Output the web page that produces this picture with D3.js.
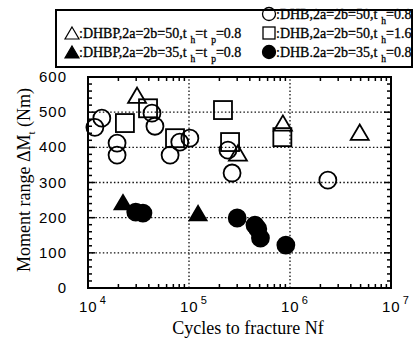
<!DOCTYPE html>
<html>
<head>
<meta charset="utf-8">
<script src="https://cdn.jsdelivr.net/npm/d3@7"></script>
<style>
  body { margin: 0; background: #fff; }
  svg { display: block; }
</style>
</head>
<body>
<div id="chart"></div>
<script>
// data: cycles to fracture, moment range (Nm)
let dhb50_08_n = [1.17e4, 1.37e4, 1.94e4, 1.94e4, 4.3e4, 4.6e4, 6.5e4, 8.1e4, 1.02e5, 2.43e5, 2.67e5, 2.37e6];
let dhb50_08_m = [457, 483, 412, 378, 497, 460, 378, 415, 426, 392, 327, 307];

let dhb50_16_n = [2.32e4, 3.93e4, 7.27e4, 2.17e5, 2.55e5, 8.4e5];
let dhb50_16_m = [469, 511, 426, 506, 415, 429];

let dhbp50_n = [3.06e4, 3.05e5, 8.5e5, 4.9e6];
let dhbp50_m = [548, 384, 469, 443];

let dhbp35_n = [2.22e4, 1.23e5];
let dhbp35_m = [244, 213];

let dhb35_n = [2.97e4, 3.5e4, 3.0e5, 4.5e5, 4.8e5, 5.1e5, 9.1e5];
let dhb35_m = [216, 213, 199, 179, 168, 142, 122];

let yTicks = [0, 100, 200, 300, 400, 500, 600];
let xDecades = [4, 5, 6, 7];

const W = 417, H = 343;
const m = {left: 88, right: 26, top: 77, bottom: 55};

let svg = d3.select("#chart").append("svg")
    .attr("width", W).attr("height", H);

let x = d3.scaleLog().domain([1e4, 1e7]).range([m.left, W - m.right]);
let y = d3.scaleLinear().domain([0, 600]).range([H - m.bottom, m.top]);

// dotted grid
let grid = svg.append("g")
    .attr("stroke", "#111").attr("stroke-width", 1.3)
    .attr("stroke-dasharray", "1.5,2.2");
grid.selectAll("line.gy")
    .data([100, 200, 300, 400, 500])
    .enter().append("line")
    .attr("x1", x(1e4)).attr("x2", x(1e7))
    .attr("y1", d => y(d)).attr("y2", d => y(d));
grid.selectAll("line.gx")
    .data([1e5, 1e6])
    .enter().append("line")
    .attr("x1", d => x(d)).attr("x2", d => x(d))
    .attr("y1", y(0)).attr("y2", y(600));

// ticks on all four sides, pointing in
let ticks = svg.append("g").attr("stroke", "#000").attr("stroke-width", 1.5);
let yMinor = d3.range(0, 601, 20);
ticks.selectAll("line.yl").data(yMinor).enter().append("line")
    .attr("x1", x(1e4)).attr("x2", d => x(1e4) + (d % 100 === 0 ? 7 : 4))
    .attr("y1", d => y(d)).attr("y2", d => y(d));
ticks.selectAll("line.yr").data(yMinor).enter().append("line")
    .attr("x1", x(1e7)).attr("x2", d => x(1e7) - (d % 100 === 0 ? 7 : 4))
    .attr("y1", d => y(d)).attr("y2", d => y(d));

let xMinor = [];
for (let e = 4; e < 7; e++) {
    for (let k = 2; k <= 9; k++) xMinor.push(k * Math.pow(10, e));
}
ticks.selectAll("line.xb").data(xMinor).enter().append("line")
    .attr("x1", d => x(d)).attr("x2", d => x(d))
    .attr("y1", y(0)).attr("y2", y(0) - 4);
ticks.selectAll("line.xt").data(xMinor).enter().append("line")
    .attr("x1", d => x(d)).attr("x2", d => x(d))
    .attr("y1", y(600)).attr("y2", y(600) + 4);

// frame
svg.append("rect")
    .attr("x", x(1e4)).attr("y", y(600))
    .attr("width", x(1e7) - x(1e4)).attr("height", y(0) - y(600))
    .attr("fill", "none").attr("stroke", "#000").attr("stroke-width", 2);

// tick labels
svg.selectAll("text.yt").data(yTicks).enter().append("text")
    .attr("x", 67).attr("y", d => y(d) + 5)
    .attr("text-anchor", "end")
    .attr("font-family", "Liberation Sans, Arial, sans-serif")
    .attr("font-size", 15).attr("letter-spacing", 1)
    .text(d => d);

let xl = svg.selectAll("text.xt").data(xDecades).enter().append("text")
    .attr("x", d => x(Math.pow(10, d)) - 9).attr("y", 312)
    .attr("font-family", "Liberation Sans, Arial, sans-serif")
    .attr("font-size", 15).attr("letter-spacing", 1);
xl.append("tspan").text("10");
xl.append("tspan").attr("dy", -8).attr("dx", 2).attr("font-size", 11).text(d => d);

// axis titles
const serif = "Liberation Serif, Times New Roman, serif";
svg.append("text")
    .attr("x", 248).attr("y", 334)
    .attr("text-anchor", "middle")
    .attr("font-family", serif).attr("font-size", 18)
    .text("Cycles to fracture Nf");

let yt = svg.append("text")
    .attr("transform", "translate(30,180) rotate(-90)")
    .attr("text-anchor", "middle")
    .attr("font-family", serif).attr("font-size", 18);
yt.append("tspan").text("Moment range  \u0394M");
yt.append("tspan").attr("dy", 5).attr("font-size", 11).text("t");
yt.append("tspan").attr("dy", -5).text(" (Nm)");

// markers
function pts(ns, ms) { return ns.map((n, i) => ({n: n, m: ms[i]})); }
let marks = svg.append("g");

function circles(data, r, filled) {
    marks.selectAll(null).data(data).enter().append("circle")
        .attr("cx", d => x(d.n)).attr("cy", d => y(d.m)).attr("r", r)
        .attr("fill", filled ? "#000" : "none")
        .attr("stroke", "#000").attr("stroke-width", 1.8);
}
function squares(data, s) {
    marks.selectAll(null).data(data).enter().append("rect")
        .attr("x", d => x(d.n) - s / 2).attr("y", d => y(d.m) - s / 2)
        .attr("width", s).attr("height", s)
        .attr("fill", "none").attr("stroke", "#000").attr("stroke-width", 1.8);
}
function triangles(data, w, filled) {
    let h = w * 0.85;
    marks.selectAll(null).data(data).enter().append("path")
        .attr("d", d => {
            let cx = x(d.n), cy = y(d.m);
            return "M" + cx + "," + (cy - h / 2) + "L" + (cx + w / 2) + "," + (cy + h / 2)
                + "L" + (cx - w / 2) + "," + (cy + h / 2) + "Z";
        })
        .attr("fill", filled ? "#000" : "none")
        .attr("stroke", "#000").attr("stroke-width", 1.8).attr("stroke-linejoin", "miter");
}

circles(pts(dhb50_08_n, dhb50_08_m), 8.5, false);
squares(pts(dhb50_16_n, dhb50_16_m), 18);
triangles(pts(dhbp50_n, dhbp50_m), 18, false);
triangles(pts(dhbp35_n, dhbp35_m), 17, true);
circles(pts(dhb35_n, dhb35_m), 8.5, true);

// legend
svg.append("rect")
    .attr("x", 56).attr("y", 10).attr("width", 356).attr("height", 57)
    .attr("fill", "none").attr("stroke", "#000").attr("stroke-width", 2);

let legendRows = [
    {col: 0, row: 1, sym: "tri", fill: false, txt: ":DHBP,2a=2b=50,t", subs: [["h", "=t"], ["p", "=0.8"]]},
    {col: 0, row: 2, sym: "tri", fill: true, txt: ":DHBP,2a=2b=35,t", subs: [["h", "=t"], ["p", "=0.8"]]},
    {col: 1, row: 0, sym: "circ", fill: false, txt: ":DHB,2a=2b=50,t", subs: [["h", "=0.8"]]},
    {col: 1, row: 1, sym: "sq", fill: false, txt: ":DHB,2a=2b=50,t", subs: [["h", "=1.6"]]},
    {col: 1, row: 2, sym: "circ", fill: true, txt: ":DHB.2a=2b=35,t", subs: [["h", "=0.8"]]}
];
let colX = [66, 263];
let colW = [167, 133];
let rowY = [19, 38, 57];

legendRows.forEach(r => {
    let sx = colX[r.col] + 6, sy = rowY[r.row] - 5;
    if (r.sym === "tri") {
        svg.append("path")
            .attr("d", "M" + sx + "," + (sy - 6) + "L" + (sx + 7) + "," + (sy + 6) + "L" + (sx - 7) + "," + (sy + 6) + "Z")
            .attr("fill", r.fill ? "#000" : "none").attr("stroke", "#000").attr("stroke-width", 1.2);
    } else if (r.sym === "circ") {
        svg.append("circle").attr("cx", sx).attr("cy", sy).attr("r", 6.5)
            .attr("fill", r.fill ? "#000" : "none").attr("stroke", "#000").attr("stroke-width", 1.3);
    } else {
        svg.append("rect").attr("x", sx - 6).attr("y", sy - 6).attr("width", 12).attr("height", 12)
            .attr("fill", "none").attr("stroke", "#000").attr("stroke-width", 1.3);
    }
    let t = svg.append("text")
        .attr("x", colX[r.col] + 13).attr("y", rowY[r.row])
        .attr("font-family", serif).attr("font-size", 14)
        .attr("stroke", "#000").attr("stroke-width", 0.3);
    t.append("tspan").text(r.txt);
    r.subs.forEach(s => {
        t.append("tspan").attr("dx", 4).attr("dy", 5).attr("font-size", 9.5).text(s[0]);
        t.append("tspan").attr("dy", -5).text(s[1]);
    });
    // squeeze to the width seen in the figure
    let bw = t.node().getComputedTextLength();
    if (bw > colW[r.col]) t.attr("textLength", colW[r.col]).attr("lengthAdjust", "spacingAndGlyphs");
});
</script>
</body>
</html>
